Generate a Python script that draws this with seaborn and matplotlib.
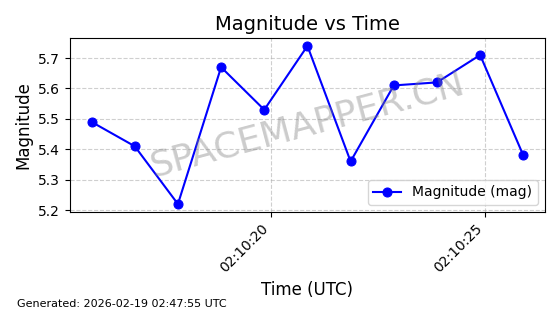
import matplotlib
matplotlib.use("Agg")
import matplotlib.pyplot as plt
import matplotlib.dates as mdates
import seaborn as sns
import pandas as pd

times = ["2026-02-19 02:10:15.825", "2026-02-19 02:10:16.832", "2026-02-19 02:10:17.839",
         "2026-02-19 02:10:18.846", "2026-02-19 02:10:19.853", "2026-02-19 02:10:20.860",
         "2026-02-19 02:10:21.867", "2026-02-19 02:10:22.874", "2026-02-19 02:10:23.881",
         "2026-02-19 02:10:24.888", "2026-02-19 02:10:25.895"]
magnitudes = [5.49, 5.41, 5.22, 5.67, 5.53, 5.74, 5.36, 5.61, 5.62, 5.71, 5.38]

df = pd.DataFrame({"time": pd.to_datetime(times), "mag": magnitudes})

fig, ax = plt.subplots(figsize=(5.6, 3.14), dpi=100)
sns.lineplot(data=df, x="time", y="mag", ax=ax, color="blue", marker="o",
             markersize=6.5, markeredgecolor="blue", linewidth=1.5, label="Magnitude (mag)")

ax.set_title("Magnitude vs Time", fontsize=14)
ax.set_xlabel("Time (UTC)", fontsize=12)
ax.set_ylabel("Magnitude", fontsize=12)
ax.xaxis.set_major_locator(mdates.SecondLocator(bysecond=range(0, 60, 5)))
ax.xaxis.set_major_formatter(mdates.DateFormatter("%H:%M:%S"))
plt.setp(ax.get_xticklabels(), rotation=45, ha="right")
ax.grid(True, linestyle="--", alpha=0.6)
ax.legend(loc="lower right")

ax.text(0.5, 0.5, "SPACEMAPPER.CN", transform=ax.transAxes, fontsize=26,
        color="gray", alpha=0.4, rotation=15, ha="center", va="center")

fig.text(0.03, 0.015, "Generated: 2026-02-19 02:47:55 UTC", fontsize=8, va="bottom")

fig.subplots_adjust(left=0.125, right=0.973, top=0.879, bottom=0.325)
fig.savefig("out.png", dpi=100)
